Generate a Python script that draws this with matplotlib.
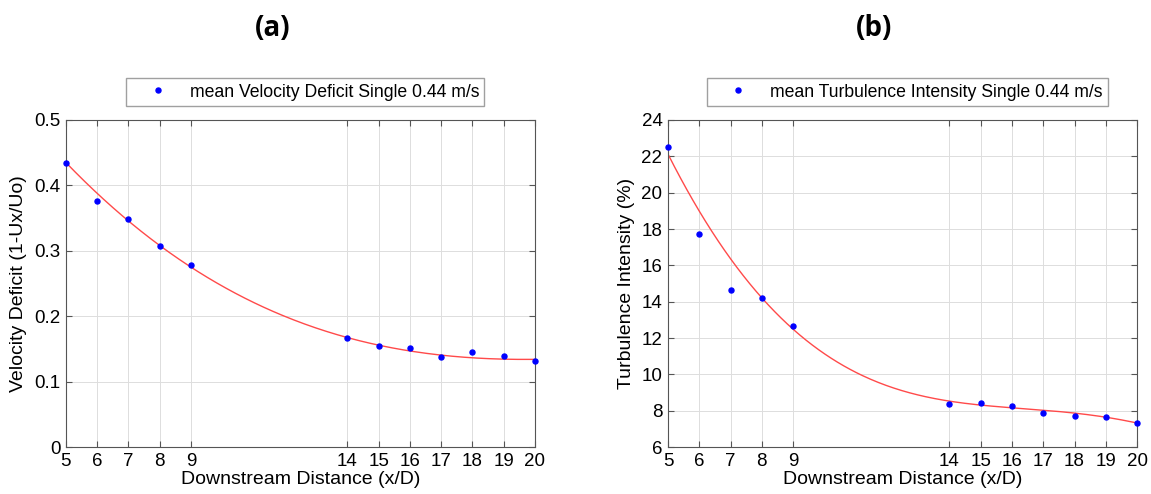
import matplotlib.pyplot as plt
from matplotlib.ticker import FuncFormatter
import numpy as np

plt.rcParams['font.family'] = ['Liberation Sans', 'DejaVu Sans']

distance = [5, 6, 7, 8, 9, 14, 15, 16, 17, 18, 19, 20]
vel_deficit = [0.435, 0.376, 0.348, 0.307, 0.278, 0.167, 0.155, 0.151, 0.138, 0.145, 0.139, 0.131]
turb_intensity = [22.5, 17.75, 14.65, 14.2, 12.65, 8.35, 8.4, 8.25, 7.85, 7.7, 7.65, 7.3]
xticks = [5, 6, 7, 8, 9, 14, 15, 16, 17, 18, 19, 20]

# red trend curves
vel_curve_x = [5, 6, 7, 8, 9, 14, 15, 16, 17, 18, 19, 20]
vel_curve_y = [0.434, 0.389, 0.346, 0.307, 0.2755, 0.167, 0.155, 0.147, 0.141, 0.137, 0.1345, 0.1335]
ti_curve_x = [5, 6, 7, 8, 9, 10, 11, 12, 13, 14, 15, 16, 17, 18, 19, 20]
ti_curve_y = [22.1, 19.05, 16.3, 14.17, 12.54, 11.15, 10.1, 9.38, 8.85, 8.5, 8.33, 8.18, 8.02, 7.85, 7.65, 7.32]


def panel(ax, x, y, cx, cy, deg, ylim, yticks, ylabel, legend_text, tag):
    # smooth trend line through the sampled curve
    coef = np.polyfit(cx, cy, deg)
    xf = np.linspace(min(cx), max(cx), 300)
    ax.plot(xf, np.polyval(coef, xf), color='#ff4a4a', lw=1.0, zorder=2)
    ax.plot(x, y, 'o', color='#0000ff', ms=3.6, label=legend_text, zorder=3, clip_on=False)
    ax.set_xlim(5, 20)
    ax.set_ylim(*ylim)
    ax.set_xticks(xticks)
    ax.set_yticks(yticks)
    ax.yaxis.set_major_formatter(FuncFormatter(lambda v, p: f'{v:g}'))
    ax.grid(True, color='#dddddd', lw=0.7)
    ax.tick_params(direction='in', top=True, right=True, labelsize=13.5, length=4,
                   color='#555555', pad=4)
    for s in ax.spines.values():
        s.set_color('#555555')
        s.set_linewidth(0.8)
    ax.set_xlabel('Downstream Distance (x/D)', fontsize=14, labelpad=1)
    ax.set_ylabel(ylabel, fontsize=14, labelpad=5)
    leg = ax.legend(loc='lower center', bbox_to_anchor=(0.51, 1.043), frameon=True,
                    fancybox=False, fontsize=12.7, handletextpad=0.3, borderpad=0.3,
                    handlelength=3.0, borderaxespad=0)
    leg.get_frame().set_edgecolor('#888888')
    leg.get_frame().set_linewidth(1.0)
    ax.text(0.44, 1.28, tag, transform=ax.transAxes, ha='center', va='center',
            fontsize=20, fontweight='bold', family=['Open Sans', 'DejaVu Sans'])


fig = plt.figure(figsize=(11.51, 4.94), dpi=100)
ax1 = fig.add_axes([0.0573, 0.0951, 0.4075, 0.662])
ax2 = fig.add_axes([0.5804, 0.0951, 0.4075, 0.662])

panel(ax1, distance, vel_deficit, vel_curve_x, vel_curve_y, 3, (0, 0.5),
      [0, 0.1, 0.2, 0.3, 0.4, 0.5], 'Velocity Deficit (1-Ux/Uo)',
      'mean Velocity Deficit Single 0.44 m/s', '(a)')
panel(ax2, distance, turb_intensity, ti_curve_x, ti_curve_y, 6, (6, 24),
      list(range(6, 25, 2)), 'Turbulence Intensity (%)',
      'mean Turbulence Intensity Single 0.44 m/s', '(b)')

fig.savefig('out.png', dpi=100)
